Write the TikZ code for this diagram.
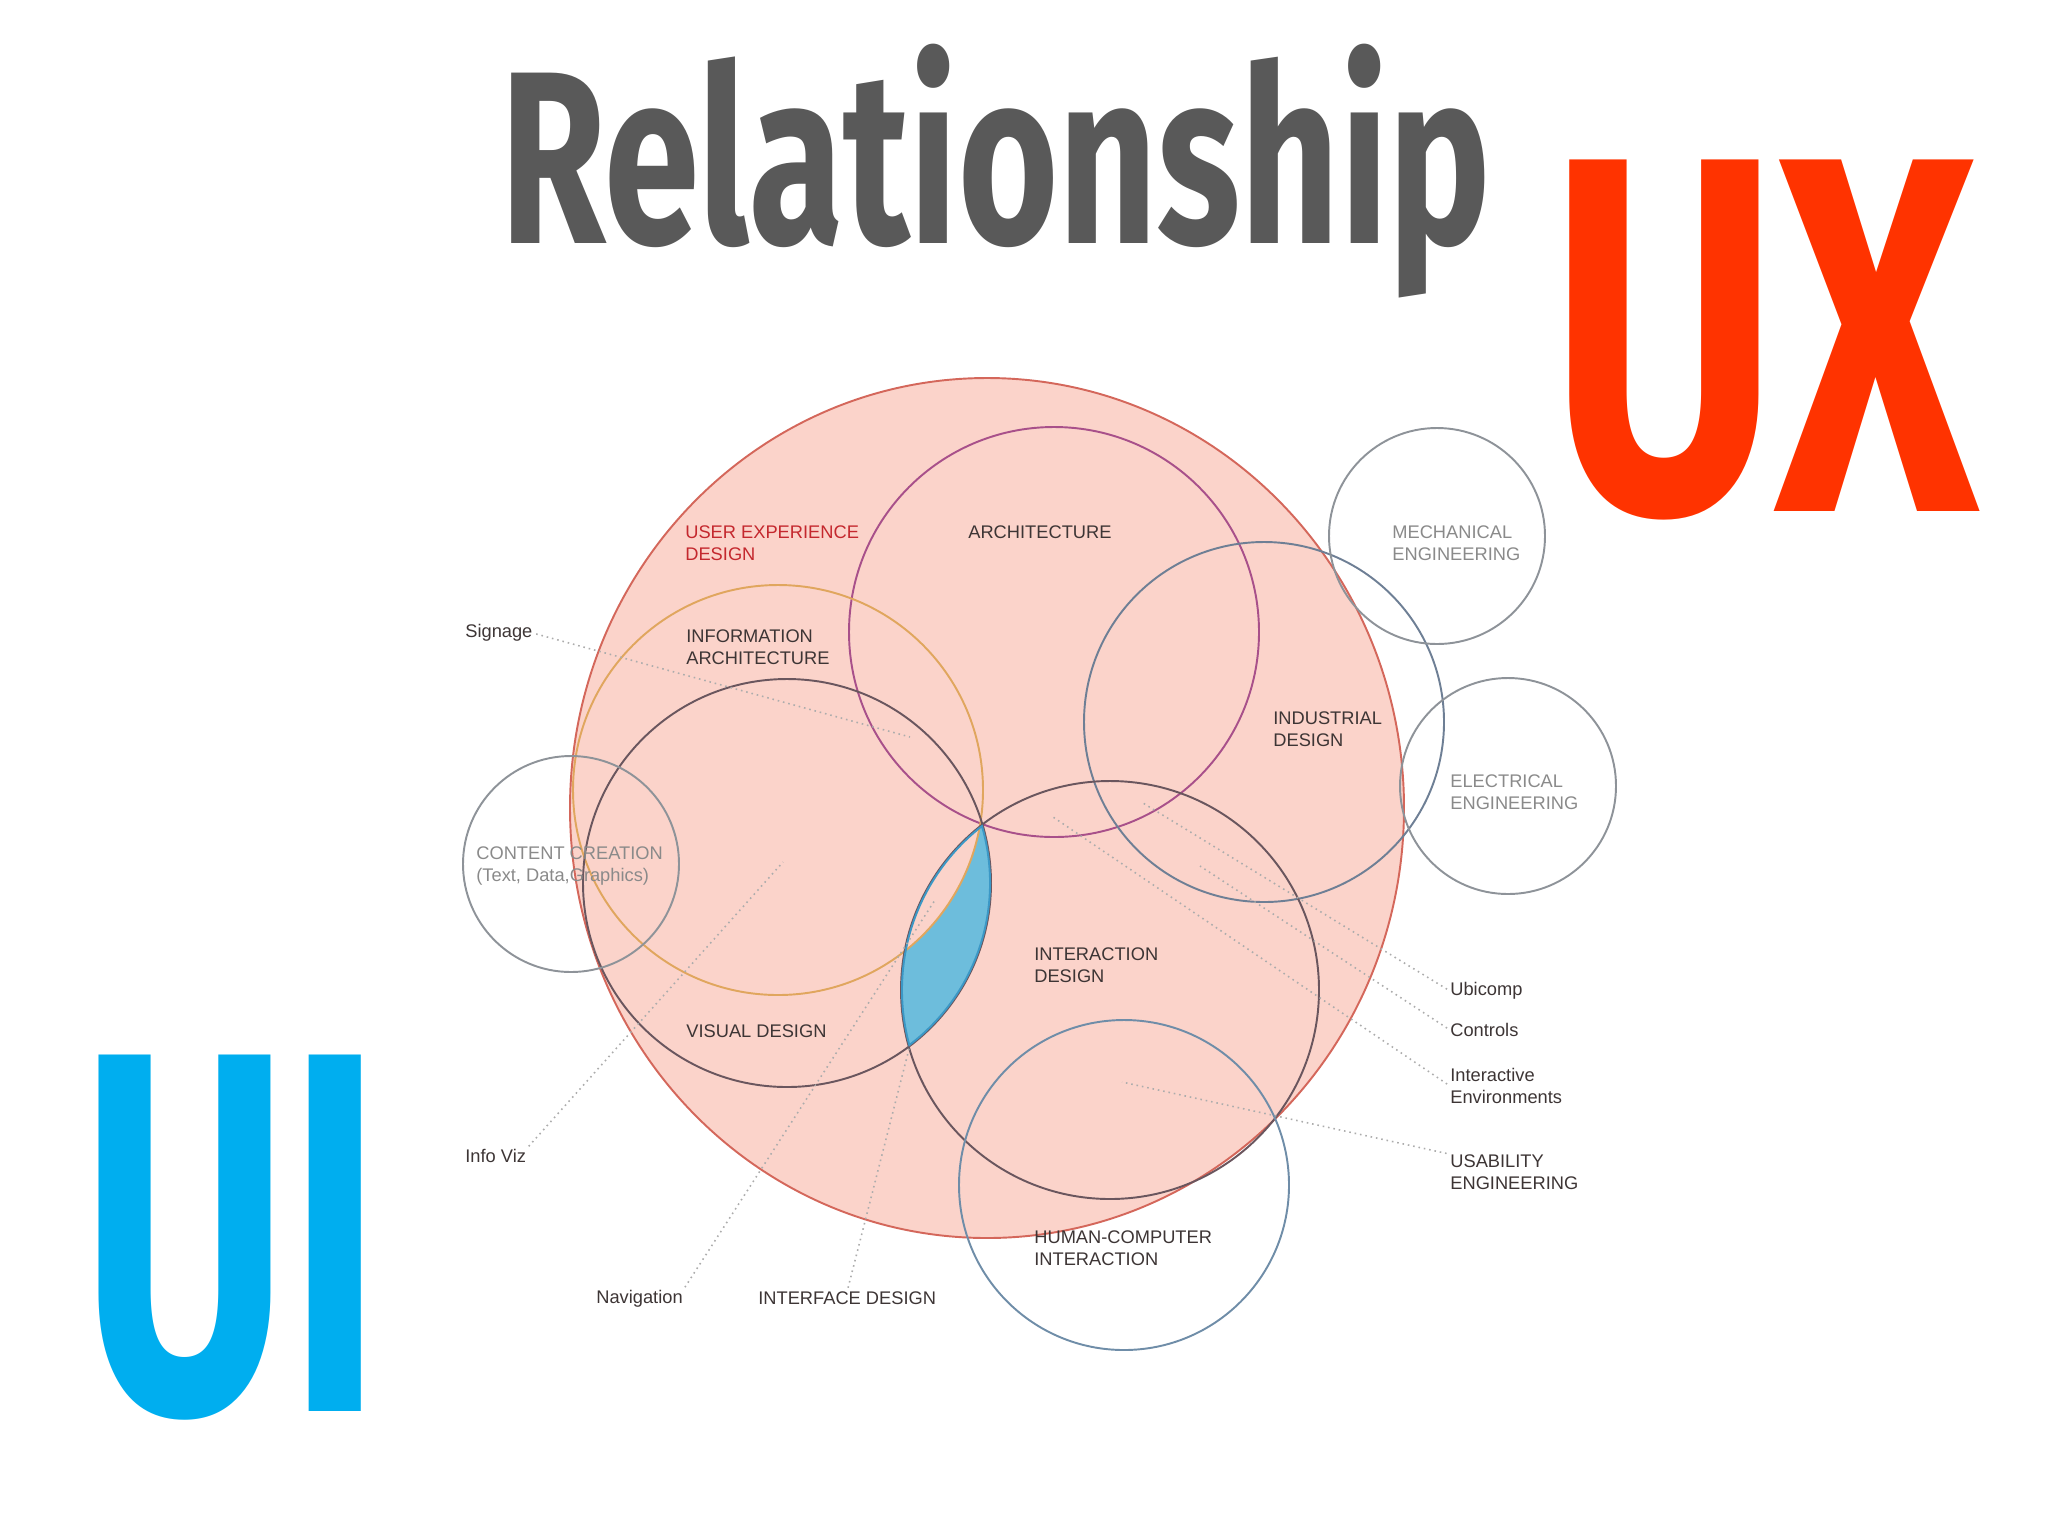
\documentclass[tikz,border=0pt]{standalone}
\usepackage{fontspec}
\setmainfont{Liberation Sans}
\newfontfamily\headfont{Fira Sans}
\usepackage{graphicx}
\usepackage{xcolor}
\usetikzlibrary{positioning}
\definecolor{uxpink}{HTML}{FBD3CA}
\definecolor{uxline}{HTML}{D4675B}
\definecolor{uxred}{HTML}{C4282E}
\definecolor{uxorange}{HTML}{FF3300}
\definecolor{uiblue}{HTML}{00AEEF}
\definecolor{lens}{HTML}{6DBDDC}
\definecolor{lensline}{HTML}{3B98C6}
\definecolor{titlegray}{HTML}{595959}
\definecolor{archline}{HTML}{A8508A}
\definecolor{ialine}{HTML}{E0A65E}
\definecolor{darkline}{HTML}{6A565E}
\definecolor{blueline}{HTML}{6F8DA8}
\definecolor{greyline}{HTML}{8E9399}
\definecolor{labeldark}{HTML}{3D3535}
\definecolor{labelgray}{HTML}{8A8A8A}

\begin{document}
\begin{tikzpicture}[x=0.02cm, y=-0.02cm,
  ring/.style={line width=1.1pt},
  lbl/.style={anchor=west, inner sep=0pt, align=left, text=labeldark,
              font=\fontsize{10.4}{12.5}\selectfont},
  faint/.style={lbl, text=labelgray},
  leader/.style={draw=gray!65, line width=0.9pt, dash pattern=on 0.9pt off 2.2pt,
                 shorten <=2pt},
  big/.style={inner sep=0pt, anchor=north west}
]
\useasboundingbox (0,0) rectangle (2048,1536);

% circle centres
\coordinate (cux)   at (987,808);
\coordinate (carch) at (1054,632);
\coordinate (cind)  at (1264,722);
\coordinate (cmech) at (1437,536);
\coordinate (celec) at (1508,786);
\coordinate (cia)   at (778,790);
\coordinate (cvd)   at (787,883);
\coordinate (cixd)  at (1110,990);
\coordinate (chci)  at (1124,1185);
\coordinate (ccc)   at (571,864);

\fill[uxpink] (cux) ellipse [x radius=417, y radius=430];

% blue lens
\begin{scope}
  \clip (cvd) circle (204);
  \clip (cixd) circle (209);
  \fill[lens, even odd rule] (500,700) rectangle (1200,1200) (cia) circle (205);
\end{scope}

% leader end points
\coordinate (sgEnd)  at (910,737);
\coordinate (vizEnd) at (783,862);
\coordinate (navEnd) at (935,900);
\coordinate (ifEnd)  at (910,1045);
\coordinate (ubiEnd) at (1143,803);
\coordinate (ctlEnd) at (1200,866);
\coordinate (envEnd) at (1053,817);
\coordinate (usaEnd) at (1122,1082);

\draw[ring, uxline] (cux) ellipse [x radius=417, y radius=430];
\draw[ring, archline] (carch) circle (205);
\draw[ring, blueline!75!darkline] (cind) circle (180);
\draw[ring, greyline] (cmech) circle (108);
\draw[ring, greyline] (celec) circle (108);
\draw[ring, ialine] (cia) circle (205);
\draw[ring, darkline] (cvd) circle (204);
\draw[ring, darkline] (cixd) circle (209);
\draw[ring, blueline] (chci) circle (165);
\draw[ring, greyline] (ccc) circle (108);

\begin{scope}
  \clip (cvd) circle (204);
  \clip (cixd) circle (209);
  \draw[lensline, line width=2.2pt] (cvd) circle (204) (cixd) circle (209);
\end{scope}

% labels
\node[lbl, text=uxred] (ux) at (685,543) {USER EXPERIENCE\\DESIGN};
\node[lbl] (arch) at (968,532) {ARCHITECTURE};
\node[faint] (mech) at (1392,543) {MECHANICAL\\ENGINEERING};
\node[lbl] (sig) at (465,633) {Signage};
\node[lbl] (ia) at (686,647) {INFORMATION\\ARCHITECTURE};
\node[lbl] (ind) at (1273,729) {INDUSTRIAL\\DESIGN};
\node[faint] (elec) at (1450,792) {ELECTRICAL\\ENGINEERING};
\node[faint] (cc) at (476,866) {CONTENT CREATION\\(Text, Data,Graphics)};
\node[lbl] (ixd) at (1034,965) {INTERACTION\\DESIGN};
\node[lbl] (ubi) at (1450,991) {Ubicomp};
\node[lbl] (ctl) at (1450,1030) {Controls};
\node[lbl] (env) at (1450,1086) {Interactive\\Environments};
\node[lbl] (vd) at (686,1031) {VISUAL DESIGN};
\node[lbl] (viz) at (465,1156) {Info Viz};
\node[lbl] (usa) at (1450,1172) {USABILITY\\ENGINEERING};
\node[lbl] (hci) at (1034,1248) {HUMAN-COMPUTER\\INTERACTION};
\node[lbl] (nav) at (596,1299) {Navigation};
\node[lbl] (ifd) at (758,1298) {INTERFACE DESIGN};

\draw[leader] (sig.east) -- (sgEnd);
\draw[leader] (viz.north east) -- (vizEnd);
\draw[leader] (nav.north east) -- (navEnd);
\draw[leader] (ifd.north) -- (ifEnd);
\draw[leader] (ubi.west) -- (ubiEnd);
\draw[leader] (ctl.west) -- (ctlEnd);
\draw[leader] (env.west) -- (envEnd);
\draw[leader] (usa.north west) -- (usaEnd);

% big words
\node[big, text=titlegray] (title) at (500,44)
    {\resizebox*{19.8cm}{5.08cm}{\headfont\bfseries Relationship}};
\node[big, text=uxorange] (uxword) at (1550,160)
    {\resizebox*{8.56cm}{7.2cm}{\headfont\bfseries UX}};
\node[big, text=uiblue] (uiword) at (81,1055)
    {\resizebox*{6.0cm}{7.3cm}{\headfont\bfseries UI}};
\end{tikzpicture}
\end{document}
